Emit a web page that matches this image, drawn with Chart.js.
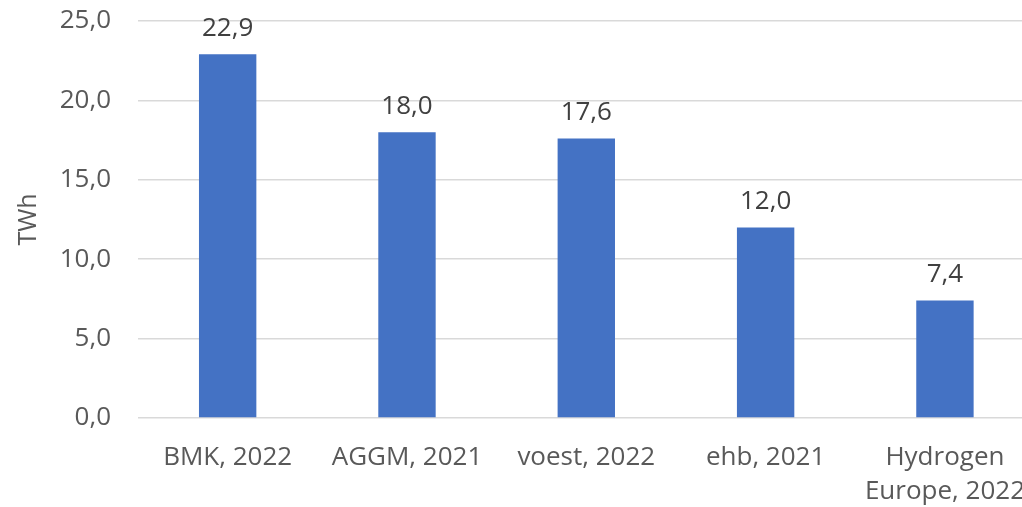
<!DOCTYPE html>
<html>
<head>
<meta charset="utf-8">
<script src="https://cdn.jsdelivr.net/npm/chart.js@4/dist/chart.umd.min.js"></script>
<style>
html,body{margin:0;padding:0;overflow:hidden;background:#fff;}
#wrap{width:1048px;height:507px;position:relative;}
</style>
</head>
<body>
<div id="wrap"><canvas id="c"></canvas></div>
<script>
const categories = [["BMK, 2022"], ["AGGM, 2021"], ["voest, 2022"], ["ehb, 2021"], ["Hydrogen", "Europe, 2022"]];
const values = [22.9, 18.0, 17.6, 12.0, 7.4];
const yTicks = [0, 5, 10, 15, 20, 25];
const yTitle = "TWh";

const fmt = v => v.toFixed(1).replace('.', ',');
const FONT = '"Open Sans", sans-serif';

const dataLabels = {
  id: 'dataLabels',
  afterDatasetsDraw(chart) {
    const ctx = chart.ctx;
    const meta = chart.getDatasetMeta(0);
    ctx.save();
    ctx.font = '26px ' + FONT;
    ctx.fillStyle = '#404040';
    ctx.textAlign = 'center';
    ctx.textBaseline = 'middle';
    meta.data.forEach((bar, i) => {
      ctx.fillText(fmt(values[i]), bar.x, bar.y - 26);
    });
    ctx.restore();
  }
};

new Chart(document.getElementById('c'), {
  type: 'bar',
  data: {
    labels: categories,
    datasets: [{
      data: values,
      backgroundColor: '#4472C4',
      borderWidth: 0,
      barPercentage: 0.64,
      categoryPercentage: 0.5
    }]
  },
  options: {
    responsive: true,
    maintainAspectRatio: false,
    animation: false,
    layout: { padding: { top: 21, right: 0, left: 0, bottom: 0 } },
    plugins: { legend: { display: false }, tooltip: { enabled: false } },
    scales: {
      x: {
        grid: { display: false, drawTicks: false },
        border: { display: false },
        ticks: {
          color: '#595959',
          font: { family: FONT, size: 26, lineHeight: 1.3 },
          padding: 23,
          maxRotation: 0,
          autoSkip: false
        },
        afterFit(s) { s.height = 89; }
      },
      y: {
        min: 0,
        max: 25,
        afterBuildTicks(s) { s.ticks = yTicks.map(v => ({ value: v })); },
        grid: { color: '#d9d9d9', lineWidth: 1.5, drawTicks: false },
        border: { display: false },
        ticks: {
          color: '#595959',
          font: { family: FONT, size: 26 },
          padding: 27,
          callback: v => fmt(v)
        },
        title: {
          display: true,
          text: yTitle,
          color: '#595959',
          font: { family: FONT, size: 25 },
          padding: { top: 14, bottom: 0 }
        },
        afterFit(s) { s.width = 138; s.paddingTop = 0; s.paddingBottom = 0; }
      }
    }
  },
  plugins: [dataLabels]
});
</script>
</body>
</html>
